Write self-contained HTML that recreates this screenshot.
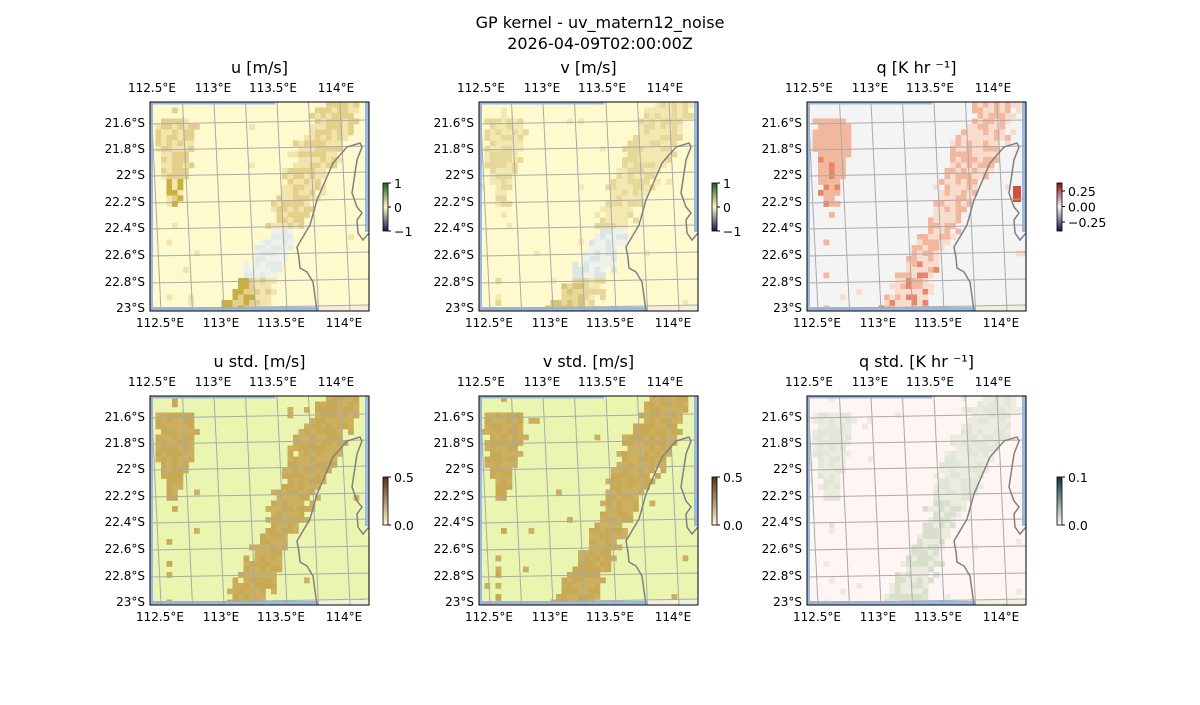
<!DOCTYPE html>
<html><head><meta charset="utf-8"><style>
body{margin:0;background:#fff;}
svg text{font-family:"DejaVu Sans","Liberation Sans",sans-serif;fill:#000;}
</style></head><body>
<svg id="s" width="1200" height="700" xmlns="http://www.w3.org/2000/svg">
<text x="600" y="28" font-size="16" text-anchor="middle">GP kernel - uv_matern12_noise</text>
<text x="600" y="49" font-size="16" text-anchor="middle">2026-04-09T02:00:00Z</text>
</svg>
<script>
const S=document.getElementById('s');let h='';
const W=219,H=209;
const panels=[
 {x:150,y:102,t:'u [m/s]',bg:'#fffacd',b1:'#f1e4ac',b2:'#e4d08a',b3:'#c8b040',lo:'#e2ebe6',cb:['1','0','−1'],cbc:['#1a5e20','#fff7c0','#0a1a5a']},
 {x:479,y:102,t:'v [m/s]',bg:'#fffacd',b1:'#f3e7b2',b2:'#e6d898',b3:'#d8c478',lo:'#dbe7e4',cb:['1','0','−1'],cbc:['#1a5e20','#fff7c0','#0a1a5a']},
 {x:807,y:102,t:'q [K hr ⁻¹]',bg:'#f4f4f4',b1:'#f8dccd',b2:'#f2b89e',b3:'#e8866c',lo:'#f8dccd',cb:['0.25','0.00','−0.25'],cbc:['#8a1010','#f4f4f4','#0a1a5a'],q:1},
 {x:150,y:396,t:'u std. [m/s]',bg:'#eaf5b0',b1:'#ccb060',b2:'#c8aa56',b3:'#c6a652',lo:'#ccb060',cb:['0.5','0.0'],cbc:['#5a3010','#fff8d0']},
 {x:479,y:396,t:'v std. [m/s]',bg:'#eaf5b0',b1:'#ccb060',b2:'#c8aa56',b3:'#c6a652',lo:'#ccb060',cb:['0.5','0.0'],cbc:['#5a3010','#fff8d0']},
 {x:807,y:396,t:'q std. [K hr ⁻¹]',bg:'#fff5f2',b1:'#ecebe0',b2:'#e2e6d6',b3:'#d8dfca',lo:'#ecebe0',cb:['0.1','0.0'],cbc:['#0a3a40','#fffaf0'],q:1}
];
function rnd(i,j,k){let x=(i*73856093)^(j*19349663)^(k*83492791);x=(x^(x>>>13))*1274126177;x^=x>>>16;return ((x>>>0)%10000)/10000;}
const latL=['21.6°S','21.8°S','22°S','22.2°S','22.4°S','22.6°S','22.8°S','23°S'];
const latY=[20,46,72,99,125,152,179,205];
const lonL=['112.5°E','113°E','113.5°E','114°E'];
const lonX=[2,63,123,186];
const coast=[[167,209],[163,180],[157,170],[150,166],[149,156],[147,145],[160,123],[167,98],[183,61],[197,45],[210,41],[212,45],[207,58],[202,91],[207,105],[212,111],[207,118],[208,131],[213,138],[219,131]];
panels.forEach((p,k)=>{
 const X=p.x,Y=p.y;
 h+=`<text x="${X+W/2}" y="${Y-29}" font-size="16" text-anchor="middle">${p.t}</text>`;
 h+=`<clipPath id="c${k}"><rect x="${X}" y="${Y}" width="${W}" height="${H}"/></clipPath><g clip-path="url(#c${k})">`;
 h+=`<rect x="${X}" y="${Y}" width="${W}" height="${H}" fill="${p.bg}"/>`;
 const c=5.5;
 for(let i=0;i<W/c;i++)for(let j=0;j<H/c;j++){
  const fx=(i*c+c/2)/W,fy=(j*c+c/2)/H,r=rnd(i,j,k),r2=rnd(j,i,k+7);
  let col=null;
  const lc=0.12-0.03*fy, lw=(fy<0.08||fy>0.5)?0:0.06+0.03*Math.sin(fy*9);
  if(Math.abs(fx-lc)<lw+0.03*(r-0.5)){col=r2<0.4?p.b1:p.b2; if(fy>0.38&&fy<0.5&&r2>0.6&&k==0)col=p.b3; if(k==2)col=(r2>0.8&&fy>0.25)?p.b3:p.b2;}
  const cx=0.88-0.45*fy, bw=0.09+0.02*Math.sin(fy*7);
  if(Math.abs(fx-cx)<bw+0.05*(r-0.5)){col=r2<0.5?p.b1:p.b2;
   if(k<2&&fy>0.6&&fy<0.85)col=r2<0.5?p.lo:'#eef2ea';
   if(k<2&&fy>0.85&&fx<0.48)col=r2<0.5?p.b2:p.b3;
   if(k==2&&fy>0.75&&r2>0.7)col=p.b3;
   if(k==5&&fy>0.5&&r2>0.5)col=p.b3;}
  if(!col&&r>0.99)col=p.b1;
  if(col)h+=`<rect x="${X+i*c}" y="${Y+j*c}" width="${c+0.3}" height="${c+0.3}" fill="${col}"/>`;
 }
 if(k==2)h+=`<rect x="${X+206}" y="${Y+84}" width="8" height="16" fill="#d05040"/>`;
 h+=`<rect x="${X}" y="${Y}" width="3" height="${H}" fill="#99b9e2"/><rect x="${X}" y="${Y+H-4}" width="168" height="4" fill="#99b9e2"/><rect x="${X+W-4}" y="${Y}" width="4" height="130" fill="#99b9e2"/><rect x="${X}" y="${Y}" width="125" height="2.5" fill="#99b9e2"/><rect x="${X+168}" y="${Y+H-5}" width="51" height="5" fill="#f2f0dc"/>`;
 for(let g=0;g<7;g++){const gx=X+1+g*31.5;h+=`<line x1="${gx}" y1="${Y}" x2="${gx+10}" y2="${Y+H}" stroke="#aaa" stroke-width="1"/>`;}
 latY.forEach(v=>{h+=`<line x1="${X}" y1="${Y+v+2}" x2="${X+W}" y2="${Y+v-2}" stroke="#aaa" stroke-width="1"/>`;});
 h+=`<path d="M${coast.map(q=>(X+q[0])+' '+(Y+q[1])).join(' L')}" fill="none" stroke="#808080" stroke-width="1.5"/>`;
 h+=`</g><rect x="${X}" y="${Y}" width="${W}" height="${H}" fill="none" stroke="#000" stroke-width="1"/>`;
 latL.forEach((l,i)=>{h+=`<text x="${X-5}" y="${Y+latY[i]+5}" font-size="12" text-anchor="end">${l}</text>`;});
 lonL.forEach((l,i)=>{h+=`<text x="${X+lonX[i]}" y="${Y-10}" font-size="12" text-anchor="middle">${l}</text>`;h+=`<text x="${X+lonX[i]+8}" y="${Y+H+16}" font-size="12" text-anchor="middle">${l}</text>`;});
 const bx=X+W+14+(p.q?17:0),by=Y+81,bh=48;
 h+=`<defs><linearGradient id="g${k}" x1="0" y1="0" x2="0" y2="1">${p.cbc.map((c,i)=>`<stop offset="${i/(p.cbc.length-1)}" stop-color="${c}"/>`).join('')}</linearGradient></defs>`;
 h+=`<rect x="${bx}" y="${by}" width="5" height="${bh}" fill="url(#g${k})" stroke="#000" stroke-width="0.8"/>`;
 const n=p.cb.length;
 p.cb.forEach((l,i)=>{let ty=p.q&&n==3?by+8+i*15.5:by+i*bh/(n-1);h+=`<line x1="${bx+5}" y1="${ty}" x2="${bx+8}" y2="${ty}" stroke="#000"/><text x="${bx+11}" y="${ty+5}" font-size="12.5">${l}</text>`;});
});
S.insertAdjacentHTML('beforeend',h);
</script>
</body></html>
